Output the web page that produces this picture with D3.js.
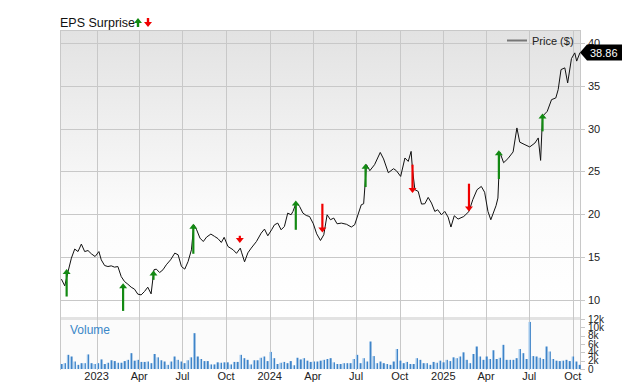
<!DOCTYPE html>
<html>
<head>
<meta charset="utf-8">
<script src="https://cdn.jsdelivr.net/npm/d3@7"></script>
<style>
  body { margin: 0; background: #fff; }
  svg { display: block; font-family: "Liberation Sans", Arial, sans-serif; }
</style>
</head>
<body>
<div id="chart"></div>
<script>
// price line (date, close)
const priceDates = ["2022-10-19","2022-10-26","2022-11-02","2022-11-09","2022-11-16","2022-11-23","2022-11-30","2022-12-07","2022-12-14","2022-12-21","2022-12-29",
  "2023-01-06","2023-01-11","2023-01-18","2023-01-25","2023-02-01","2023-02-08","2023-02-15","2023-02-22","2023-03-01","2023-03-08","2023-03-15","2023-03-22","2023-03-29",
  "2023-04-05","2023-04-12","2023-04-19","2023-04-26","2023-05-02","2023-05-07","2023-05-14","2023-05-21","2023-05-28","2023-06-06","2023-06-15","2023-06-22","2023-06-29",
  "2023-07-06","2023-07-13","2023-07-20","2023-07-25","2023-07-31","2023-08-07","2023-08-14","2023-08-21","2023-08-30","2023-09-07","2023-09-14","2023-09-21","2023-09-27",
  "2023-10-05","2023-10-16","2023-10-23","2023-10-31","2023-11-03","2023-11-09","2023-11-16","2023-11-23","2023-12-04","2023-12-14","2023-12-21","2023-12-28",
  "2024-01-05","2024-01-11","2024-01-18","2024-01-25","2024-02-01","2024-02-08","2024-02-15","2024-02-19","2024-02-26","2024-03-04","2024-03-11","2024-03-18","2024-03-25",
  "2024-04-02","2024-04-09","2024-04-17","2024-04-24","2024-05-01","2024-05-08","2024-05-15","2024-05-22","2024-05-31","2024-06-11","2024-06-21","2024-06-28",
  "2024-07-05","2024-07-12","2024-07-17","2024-07-23","2024-07-30","2024-08-09","2024-08-21","2024-08-28","2024-09-07","2024-09-18","2024-09-24",
  "2024-10-03","2024-10-12","2024-10-19","2024-10-25","2024-10-28","2024-11-02","2024-11-09","2024-11-16","2024-11-23","2024-11-30","2024-12-07","2024-12-14","2024-12-20","2024-12-28",
  "2025-01-04","2025-01-11","2025-01-17","2025-01-24","2025-02-01","2025-02-13","2025-02-24","2025-03-04","2025-03-13","2025-03-22","2025-03-29",
  "2025-04-05","2025-04-11","2025-04-22","2025-04-26","2025-04-30","2025-05-08","2025-05-17","2025-05-28","2025-06-05","2025-06-11","2025-06-22",
  "2025-07-02","2025-07-13","2025-07-20","2025-07-25","2025-07-29","2025-08-08","2025-08-17","2025-08-26","2025-08-31","2025-09-06","2025-09-14","2025-09-20","2025-09-28",
  "2025-10-05","2025-10-09","2025-10-16"]
const priceValues = [12.42,11.64,13.31,14.87,15.93,15.64,16.51,15.64,15.76,15.38,15.06,
  15.64,14.67,14.01,13.89,13.97,13.82,13.89,12.72,12.14,11.83,11.48,11.25,10.67,
  10.58,10.97,11.48,10.70,13.51,13.59,13.19,13.51,14.09,14.67,15.46,15.26,13.89,
  13.59,14.48,15.84,18.76,18.18,17.21,16.81,17.33,17.68,17.40,17.15,16.70,17.30,
  16.23,15.84,15.43,16.04,15.49,14.44,15.49,16.04,16.81,17.79,18.26,17.48,
  18.18,18.76,18.96,18.18,18.57,20.13,19.93,20.32,21.37,20.90,20.13,19.85,19.73,
  18.88,17.71,16.93,17.60,19.93,19.35,19.55,18.88,18.96,18.82,18.50,18.76,
  19.93,21.10,21.22,25.78,25.08,25.78,27.21,26.45,24.84,25.31,25.08,
  24.41,26.56,26.16,27.33,25.19,22.86,22.66,21.18,21.22,21.96,21.30,20.32,20.52,19.93,
  20.32,19.66,18.50,19.82,19.43,19.73,20.32,21.69,22.86,23.24,22.56,
  20.32,19.35,20.99,21.88,27.24,26.01,26.48,27.27,30.07,28.41,28.11,
  27.85,28.31,28.90,26.28,31.42,32.01,33.37,33.57,34.54,36.88,37.08,35.32,38.16,
  38.83,37.87,38.86]
const lastPrice = "38.86"

// weekly volume, thousands
const volumeStart = "2022-10-19"
const volumeK = [1.2,1.4,3.4,3.0,1.8,1.0,1.4,1.4,3.5,1.4,
  1.2,1.4,2.3,1.2,1.5,2.1,1.9,1.5,1.5,1.9,
  2.2,3.8,2.0,2.2,1.7,1.7,1.8,1.4,3.6,2.8,
  2.1,1.8,1.0,1.8,3.0,2.2,1.8,1.4,2.1,2.8,
  8.6,3.0,2.4,1.9,1.9,1.1,1.1,1.6,1.5,1.6,
  1.6,1.1,1.7,1.7,3.4,2.6,2.2,1.1,2.1,2.1,
  2.7,3.0,1.9,4.1,2.6,1.2,1.5,1.7,1.4,1.9,
  0.9,2.7,2.3,2.6,2.0,1.7,1.8,1.8,
  2.0,2.2,2.4,2.6,1.6,1.2,1.2,1.4,1.4,1.4,
  2.4,3.4,1.4,2.6,1.8,6.6,3.1,1.4,1.8,1.4,
  1.2,1.0,1.8,4.8,2.0,1.4,1.7,1.2,1.2,2.6,
  2.2,1.4,1.4,1.0,1.7,1.5,2.0,1.6,2.2,1.9,
  2.8,2.6,3.0,4.0,2.2,1.4,3.6,5.4,3.0,2.2,
  3.0,2.4,4.5,2.4,2.7,5.8,2.2,2.2,2.2,2.6,
  4.8,3.8,2.4,11.3,3.1,3.0,2.7,2.4,5.4,4.2,
  2.4,2.0,1.9,2.0,2.2,1.9,3.0,1.8,1.0]

// EPS surprise arrows
const epsDates = ["2022-10-30","2023-02-26","2023-05-01","2023-07-24","2023-10-30","2024-02-25","2024-04-21","2024-07-21","2024-10-28","2025-02-24","2025-04-28","2025-07-29"]
const epsDir = ["up","up","up","up","down","up","down","up","down","down","up","up"]
const epsFrom = [10.39,8.71,12.34,15.38,17.48,18.18,21.22,23.17,25.78,23.56,24.11,29.67]
const epsTo = [13.59,11.95,13.42,18.88,16.63,21.60,17.86,25.89,22.47,20.32,27.45,31.74]

const priceTicks = [10,15,20,25,30,35,40]
const volumeTicks = [0,2,4,6,8,10,12]
const xDomain = ["2022-10-16","2025-10-16"]

const W = 640, H = 382
const parse = d3.timeParse("%Y-%m-%d")
const green = "#138a13", red = "#f00000"

const svg = d3.select('#chart').append('svg')
  .attr('width', W).attr('height', H)

const x = d3.scaleTime().domain(xDomain.map(parse)).range([60, 580])
const y = d3.scaleLinear().domain([8, 41.5]).range([317, 30])
const yv = d3.scaleLinear().domain([0, 12]).range([369, 319])

const defs = svg.append('defs')
const bg = defs.append('linearGradient').attr('id', 'bg').attr('x1', 0).attr('y1', 0).attr('x2', 0).attr('y2', 1)
bg.append('stop').attr('offset', '0%').attr('stop-color', '#e2e2e2')
bg.append('stop').attr('offset', '65%').attr('stop-color', '#fcfcfc')
bg.append('stop').attr('offset', '100%').attr('stop-color', '#ffffff')
const vb = defs.append('linearGradient').attr('id', 'vb').attr('x1', 0).attr('y1', 0).attr('x2', 1).attr('y2', 0)
vb.append('stop').attr('offset', '0%').attr('stop-color', '#9cc4ea')
vb.append('stop').attr('offset', '45%').attr('stop-color', '#9cc4ea')
vb.append('stop').attr('offset', '46%').attr('stop-color', '#3f84c8')
vb.append('stop').attr('offset', '100%').attr('stop-color', '#3f84c8')

// panels
svg.append('rect').attr('x', 60).attr('y', 30).attr('width', 520).attr('height', 287).attr('fill', 'url(#bg)')
svg.append('rect').attr('x', 60).attr('y', 320).attr('width', 520).attr('height', 50).attr('fill', '#fbfbfb')
svg.append('rect').attr('x', 60).attr('y', 317).attr('width', 520).attr('height', 3).attr('fill', '#e3e3e3')

// grid
const months = x.ticks(d3.timeMonth.every(3))
svg.append('g').selectAll('line').data(months).enter().append('line')
  .attr('x1', d => Math.round(x(d)) + 0.5).attr('x2', d => Math.round(x(d)) + 0.5)
  .attr('y1', 30).attr('y2', 370)
  .attr('stroke', '#c8c8c8')
svg.append('g').selectAll('line').data(priceTicks).enter().append('line')
  .attr('x1', 60).attr('x2', 585)
  .attr('y1', d => Math.round(y(d)) + 0.5).attr('y2', d => Math.round(y(d)) + 0.5)
  .attr('stroke', '#c8c8c8')
svg.append('line').attr('x1', 60).attr('x2', 580).attr('y1', 30.5).attr('y2', 30.5).attr('stroke', '#c8c8c8')
svg.append('line').attr('x1', 60.5).attr('x2', 60.5).attr('y1', 30).attr('y2', 370).attr('stroke', '#c8c8c8')
svg.append('line').attr('x1', 580.5).attr('x2', 580.5).attr('y1', 30).attr('y2', 370).attr('stroke', '#c8c8c8')

// volume bars
const v0 = parse(volumeStart)
const vol = volumeK.map((v, i) => ({date: d3.timeWeek.offset(v0, i), v: v}))
svg.append('g').selectAll('rect').data(vol).enter().append('rect')
  .attr('x', d => x(d.date) - 1.2).attr('width', 2.4)
  .attr('y', d => yv(d.v)).attr('height', d => yv(0) - yv(d.v))
  .attr('fill', 'url(#vb)')

// price line
const prices = priceDates.map((d, i) => ({date: parse(d), v: priceValues[i]}))
svg.append('path').datum(prices)
  .attr('fill', 'none').attr('stroke', '#111').attr('stroke-width', 1)
  .attr('stroke-linejoin', 'round')
  .attr('d', d3.line().x(d => x(d.date)).y(d => y(d.v)))

// eps arrows
const eps = epsDates.map((d, i) => ({date: parse(d), dir: epsDir[i], from: epsFrom[i], to: epsTo[i]}))
const ag = svg.append('g').selectAll('g').data(eps).enter().append('g')
ag.append('line')
  .attr('x1', d => x(d.date)).attr('x2', d => x(d.date))
  .attr('y1', d => y(d.from))
  .attr('y2', d => y(d.to) + (d.dir == 'up' ? 4 : -4))
  .attr('stroke', d => d.dir == 'up' ? green : red).attr('stroke-width', 2.2)
ag.append('path')
  .attr('d', d => {
    const cx = x(d.date), ty = y(d.to), s = d.dir == 'up' ? 1 : -1
    return `M${cx},${ty}L${cx - 4},${ty + 5 * s}L${cx + 4},${ty + 5 * s}Z`
  })
  .attr('fill', d => d.dir == 'up' ? green : red)

// right axes
const txt = '#222'
svg.append('g').selectAll('text').data(priceTicks).enter().append('text')
  .attr('x', 588).attr('y', d => y(d) + 4)
  .attr('font-size', 11).attr('fill', txt).text(d => d)
svg.append('g').selectAll('line').data(volumeTicks).enter().append('line')
  .attr('x1', 580).attr('x2', 585)
  .attr('y1', d => Math.round(yv(d)) + 0.5).attr('y2', d => Math.round(yv(d)) + 0.5)
  .attr('stroke', '#c8c8c8')
svg.append('g').selectAll('text').data(volumeTicks).enter().append('text')
  .attr('x', 588).attr('y', d => yv(d) + 3.5)
  .attr('font-size', 10).attr('fill', txt).text(d => d == 0 ? '0' : d + 'k')

// x axis labels
const fmt = d => d.getMonth() == 0 ? d3.timeFormat('%Y')(d) : d3.timeFormat('%b')(d)
svg.append('g').selectAll('text').data(months).enter().append('text')
  .attr('x', d => x(d)).attr('y', 380).attr('text-anchor', 'middle')
  .attr('font-size', 11).attr('fill', txt).text(fmt)

// last price tag
const ly = y(+lastPrice)
svg.append('path')
  .attr('d', `M580,${ly}L587,${ly - 8}L622,${ly - 8}L622,${ly + 8}L587,${ly + 8}Z`)
  .attr('fill', '#000')
svg.append('text').attr('x', 590).attr('y', ly + 4)
  .attr('font-size', 11).attr('fill', '#fff').text(lastPrice)

// legend
svg.append('line').attr('x1', 507).attr('x2', 527).attr('y1', 40.5).attr('y2', 40.5)
  .attr('stroke', '#777').attr('stroke-width', 2)
svg.append('text').attr('x', 532).attr('y', 45).attr('font-size', 11).attr('fill', txt).text('Price ($)')

// title
svg.append('text').attr('x', 60).attr('y', 27).attr('font-size', 12.5).attr('fill', '#111').text('EPS Surprise')
svg.append('path').attr('d', 'M138,18L142,23L139.2,23L139.2,27L136.8,27L136.8,23L134,23Z').attr('fill', green)
svg.append('path').attr('d', 'M148,27L152,22L149.2,22L149.2,18L146.8,18L146.8,22L144,22Z').attr('fill', red)

// volume label
svg.append('text').attr('x', 70).attr('y', 334).attr('font-size', 12).attr('fill', '#3a87c8').text('Volume')
</script>
</body>
</html>
